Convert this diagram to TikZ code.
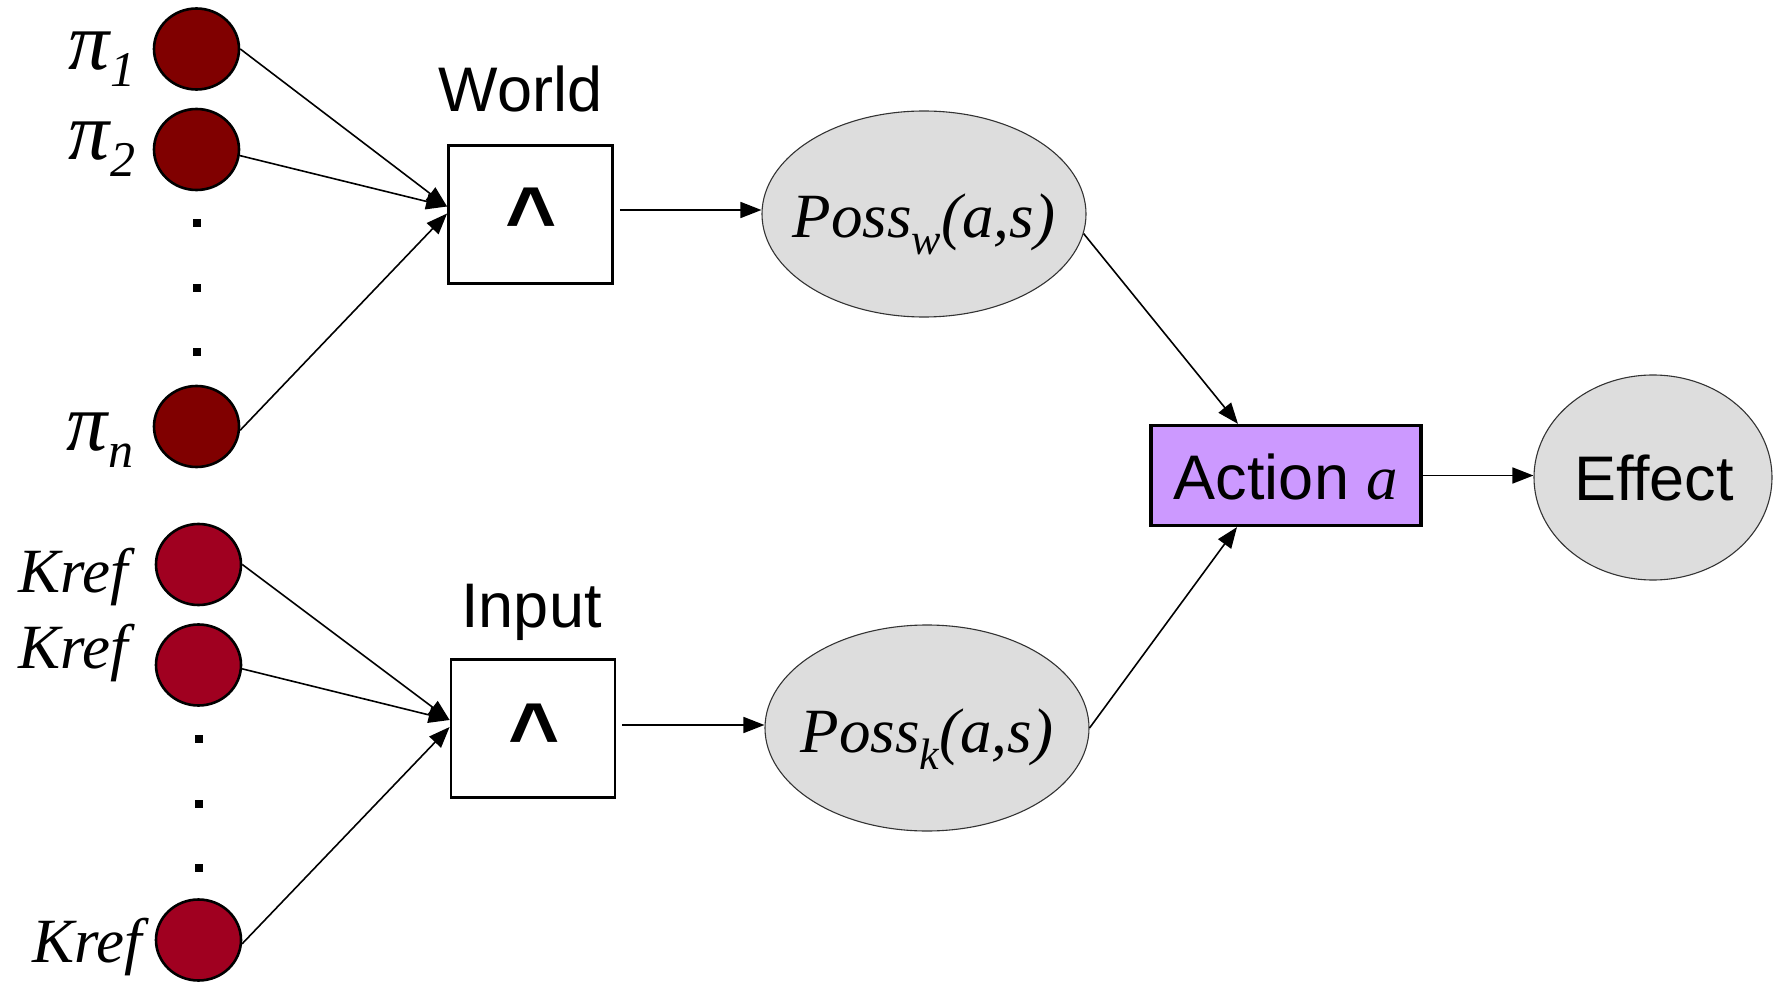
\documentclass[tikz,border=0pt]{standalone}
\usepackage{fontspec}
\setmainfont{Liberation Serif}
\setsansfont{Liberation Sans}
\usetikzlibrary{arrows.meta,shapes.geometric}

\definecolor{piRed}{HTML}{800000}
\definecolor{krefRed}{HTML}{A00020}
\definecolor{ellGray}{HTML}{DDDDDD}
\definecolor{actPurple}{HTML}{CC99FF}

% text sizes (1pt = 1px of the drawing)
\newcommand{\bigsans}{\sffamily\fontsize{63}{70}\selectfont}
\newcommand{\bigserif}{\rmfamily\itshape\fontsize{63}{70}\selectfont}
\newcommand{\subsz}{\fontsize{44}{44}\selectfont}
% Greek pi with a lowered italic index
\newcommand{\pilab}[1]{{\rmfamily\itshape\fontsize{82}{82}\selectfont π}\raisebox{-17pt}{\rmfamily\itshape\fontsize{50}{50}\selectfont #1}}
% Poss with a lowered index
\newcommand{\posslab}[1]{\bigserif Poss\raisebox{-17pt}{\subsz #1}(a,s)}

\begin{document}
\begin{tikzpicture}[x=1pt,y=-1pt,
  conn/.style={line width=1.6pt, -{Triangle[length=21pt,width=16pt]}},
  ball/.style={ellipse, draw=black, line width=2.6pt, minimum width=85pt, minimum height=81pt, inner sep=0pt},
  pidot/.style={ball, fill=piRed},
  krefdot/.style={ball, fill=krefRed},
  vdot/.style={rectangle, fill=black, minimum size=8pt, inner sep=0pt},
  gate/.style={rectangle, draw=black, fill=white, line width=2.8pt, minimum width=164pt, minimum height=138pt, inner sep=0pt},
  oval/.style={ellipse, draw=black!80, fill=ellGray, line width=1.1pt, minimum width=324pt, minimum height=206pt, inner sep=0pt},
  actbox/.style={rectangle, draw=black, fill=actPurple, line width=3.2pt, minimum width=270pt, minimum height=100pt, inner sep=0pt},
  txt/.style={inner sep=0pt, outer sep=0pt},
  wedge/.style={inner sep=0pt, anchor=base, font=\sffamily\bfseries\fontsize{88}{88}\selectfont}
]
\useasboundingbox (0,0) rectangle (1773,984);

% ---- world-knowledge inputs
\node[pidot] (p1) at (196.5,49) {};
\node[pidot] (p2) at (196.5,149.5) {};
\node[pidot] (pn) at (196.5,426.5) {};
\node[vdot] (wd1) at (196.5,223) {};
\node[vdot] (wd2) at (196.5,288) {};
\node[vdot] (wd3) at (196.5,352) {};
\node[txt, anchor=base east] (lp1) at (135,70) {\pilab{1}};
\node[txt, anchor=base east] (lp2) at (135,160) {\pilab{2}};
\node[txt, anchor=base east] (lpn) at (133,450) {\pilab{n}};

% ---- input-knowledge inputs
\node[krefdot] (k1) at (198.5,564.5) {};
\node[krefdot] (k2) at (198.5,665) {};
\node[krefdot] (k3) at (198.5,940) {};
\node[vdot] (kd1) at (198.5,739) {};
\node[vdot] (kd2) at (198.5,804) {};
\node[vdot] (kd3) at (198.5,868) {};
\node[txt, anchor=base east, font=\bigserif] (lk1) at (128,592) {Kref};
\node[txt, anchor=base east, font=\bigserif] (lk2) at (128,668) {Kref};
\node[txt, anchor=base east, font=\bigserif] (lk3) at (142,962) {Kref};

% ---- conjunction gates
\node[gate] (world) at (530.5,214.5) {};
\node[gate] (input) at (533,728.5) {};
\node[txt, anchor=base, font=\bigsans] (lworld) at (520.5,112) {World};
\node[txt, anchor=base, font=\bigsans] (linput) at (531.5,627) {Input};
\node[wedge] (wand) at (531,249) {\^{}};
\node[wedge] (iand) at (534,764) {\^{}};

% ---- possibility ovals, action, effect
\node[oval] (possw) at (924,214) {};
\node[oval] (possk) at (927,728) {};
\node[txt, anchor=base] (lpossw) at (924,238) {\posslab{w}};
\node[txt, anchor=base] (lpossk) at (927,752) {\posslab{k}};

\node[actbox] (action) at (1286,475.5) {};
\node[txt, anchor=base] (lact) at (1286,499) {\bigsans Action \bigserif a};

\node[ellipse, draw=black!80, fill=ellGray, line width=1.1pt, minimum width=238pt, minimum height=205pt, inner sep=0pt] (effect) at (1653,477.5) {};
\node[txt, anchor=base, font=\bigsans] (leffect) at (1654,500) {Effect};

% ---- connectors
\draw[conn] (p1.east) -- ([yshift=8pt]world.west);
\draw[conn] (p2.-8) -- ([yshift=8pt]world.west);
\draw[conn] (pn.-5) -- ([yshift=1pt]world.west);

\draw[conn] (k1.east) -- ([yshift=8.5pt]input.west);
\draw[conn] (k2.-5) -- ([yshift=8.5pt]input.west);
\draw[conn] (k3.-5) -- ([yshift=1.5pt]input.west);

\coordinate (wout) at ([shift={(6,-4.5)}]world.east);
\coordinate (iout) at ([shift={(6,-3.5)}]input.east);
\draw[conn] (wout) -- (wout -| possw.west);
\draw[conn] (iout) -- (iout -| possk.west);

\draw[conn] (possw.-7) -- ([xshift=-48pt]action.north);
\draw[conn] (possk.east) -- ([xshift=-49pt]action.south);
\draw[conn] (action.east) -- (action.east -| effect.west);
\end{tikzpicture}
\end{document}
